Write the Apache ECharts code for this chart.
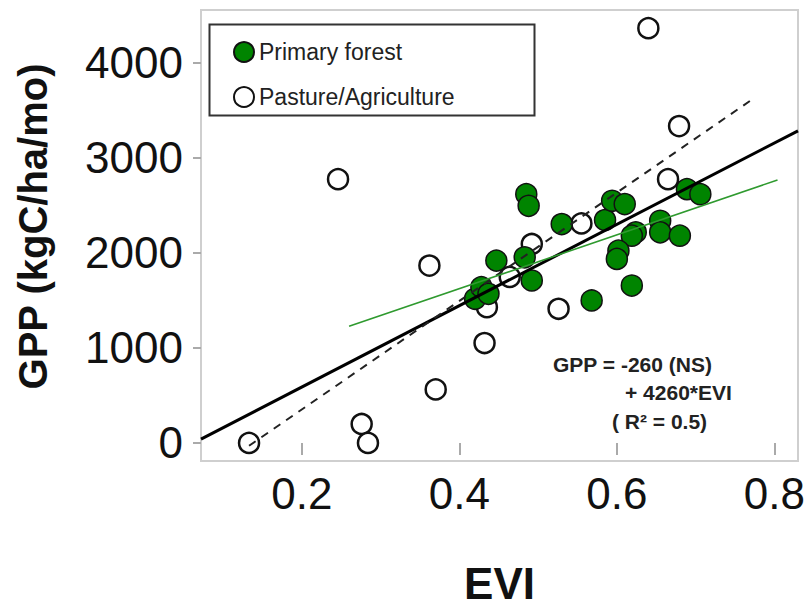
<!DOCTYPE html>
<html>
<head>
<meta charset="utf-8">
<script src="https://cdn.jsdelivr.net/npm/echarts@6/dist/echarts.min.js"></script>
<style>
html,body{margin:0;padding:0;background:#fff;}
#chart{width:808px;height:610px;}
</style>
</head>
<body>
<div id="chart"></div>
<script>
// ---- data ----
const xTicks = [0.2, 0.4, 0.6, 0.8];
const yTicks = [0, 1000, 2000, 3000, 4000];

const forestEVI = [0.420, 0.428, 0.437, 0.447, 0.483, 0.485, 0.488, 0.492, 0.530, 0.568, 0.585, 0.594,
                   0.610, 0.624, 0.619, 0.602, 0.600, 0.619, 0.655, 0.655, 0.680, 0.689, 0.706];
const forestGPP = [1515, 1637, 1567, 1916, 1951, 2614, 2492, 1707, 2300, 1497, 2342, 2545,
                   2510, 2213, 2178, 2021, 1934, 1654, 2335, 2213, 2178, 2667, 2614];

const pastureEVI = [0.133, 0.246, 0.276, 0.284, 0.362, 0.370, 0.432, 0.435, 0.464, 0.492, 0.526, 0.555, 0.640, 0.665, 0.679];
const pastureGPP = [0, 2772, 199, 0, 1864, 562, 1050, 1427, 1745, 2091, 1410, 2307, 4359, 2772, 3330];

// fitted lines, end points
const allFitEVI = [0.072, 0.830];
const allFitGPP = [40, 3280];
const pastureFitEVI = [0.133, 0.776];
const pastureFitGPP = [-30, 3634];
const forestFitEVI = [0.260, 0.804];
const forestFitGPP = [1225, 2764];

const eqLines = ['GPP = -260 (NS)', '+ 4260*EVI', '( R\u00B2 = 0.5)'];

const zip = (a, b) => a.map((v, i) => [v, b[i]]);

const regular = "'Liberation Sans', Arial, sans-serif";

const chart = echarts.init(document.getElementById('chart'), null, {renderer: 'svg'});
chart.setOption({
  animation: false,
  backgroundColor: '#ffffff',
  grid: {left: 201, top: 10, right: 10, bottom: 147, show: true, borderColor: '#cfcfcf', borderWidth: 2, backgroundColor: 'transparent'},
  xAxis: {
    type: 'value', min: 0.072, max: 0.83,
    axisLine: {show: false},
    splitLine: {show: false},
    axisTick: {show: true, length: 12, lineStyle: {color: '#aaaaaa', width: 2}, customValues: xTicks},
    axisLabel: {customValues: xTicks, margin: 10, color: '#111', fontFamily: regular, fontSize: 44,
                formatter: v => v.toFixed(1)},
    name: 'EVI', nameLocation: 'middle', nameGap: 100,
    nameTextStyle: {fontFamily: regular, fontWeight: 'bold', fontSize: 44, color: '#111', verticalAlign: 'top'}
  },
  yAxis: {
    type: 'value', min: -190, max: 4550,
    axisLine: {show: false},
    splitLine: {show: false},
    axisTick: {show: true, length: 8, lineStyle: {color: '#aaaaaa', width: 2}, customValues: yTicks},
    axisLabel: {customValues: yTicks, margin: 18, color: '#111', fontFamily: regular, fontSize: 44,
                verticalAlign: 'middle', padding: [22, 0, 0, 0], formatter: v => String(v)},
    name: 'GPP (kgC/ha/mo)', nameLocation: 'middle', nameGap: 148,
    nameTextStyle: {fontFamily: regular, fontWeight: 'bold', fontSize: 40, color: '#111', padding: [0, 0, 0, 18]}
  },
  legend: {
    show: true, orient: 'vertical', left: 228, top: 35,
    data: ['Primary forest', 'Pasture/Agriculture'],
    itemWidth: 20, itemHeight: 20, itemGap: 21,
    textStyle: {fontFamily: regular, fontSize: 23, color: '#222', lineHeight: 24}
  },
  graphic: [
    {type: 'rect', left: 207, top: 22, z: 100, shape: {x: 0, y: 0, width: 325, height: 91},
     style: {fill: 'none', stroke: '#333', lineWidth: 2}},
    {type: 'text', left: 553, top: 354, z: 100, style: {text: eqLines[0], font: "bold 21px 'Liberation Sans', Arial, sans-serif", fill: '#222'}},
    {type: 'text', left: 625, top: 382, z: 100, style: {text: eqLines[1], font: "bold 21px 'Liberation Sans', Arial, sans-serif", fill: '#222'}},
    {type: 'text', left: 612, top: 411, z: 100, style: {text: eqLines[2], font: "bold 21px 'Liberation Sans', Arial, sans-serif", fill: '#222'}}
  ],
  series: [
    {name: 'Pasture/Agriculture', type: 'scatter', z: 2, symbol: 'circle', symbolSize: 20,
     itemStyle: {color: '#ffffff', borderColor: '#111', borderWidth: 2.5, opacity: 1},
     data: zip(pastureEVI, pastureGPP)},
    {name: 'Primary forest', type: 'scatter', z: 3, symbol: 'circle', symbolSize: 21,
     itemStyle: {color: '#008400', borderColor: '#111', borderWidth: 1.5, opacity: 1},
     data: zip(forestEVI, forestGPP)},
    {name: 'fit all', type: 'line', z: 5, symbol: 'none', silent: true,
     lineStyle: {color: '#000', width: 3}, data: zip(allFitEVI, allFitGPP)},
    {name: 'fit pasture', type: 'line', z: 5, symbol: 'none', silent: true,
     lineStyle: {color: '#222', width: 2, type: [8, 7]}, data: zip(pastureFitEVI, pastureFitGPP)},
    {name: 'fit forest', type: 'line', z: 5, symbol: 'none', silent: true,
     lineStyle: {color: '#2f9a2f', width: 1.6}, data: zip(forestFitEVI, forestFitGPP)}
  ]
});
</script>
</body>
</html>
